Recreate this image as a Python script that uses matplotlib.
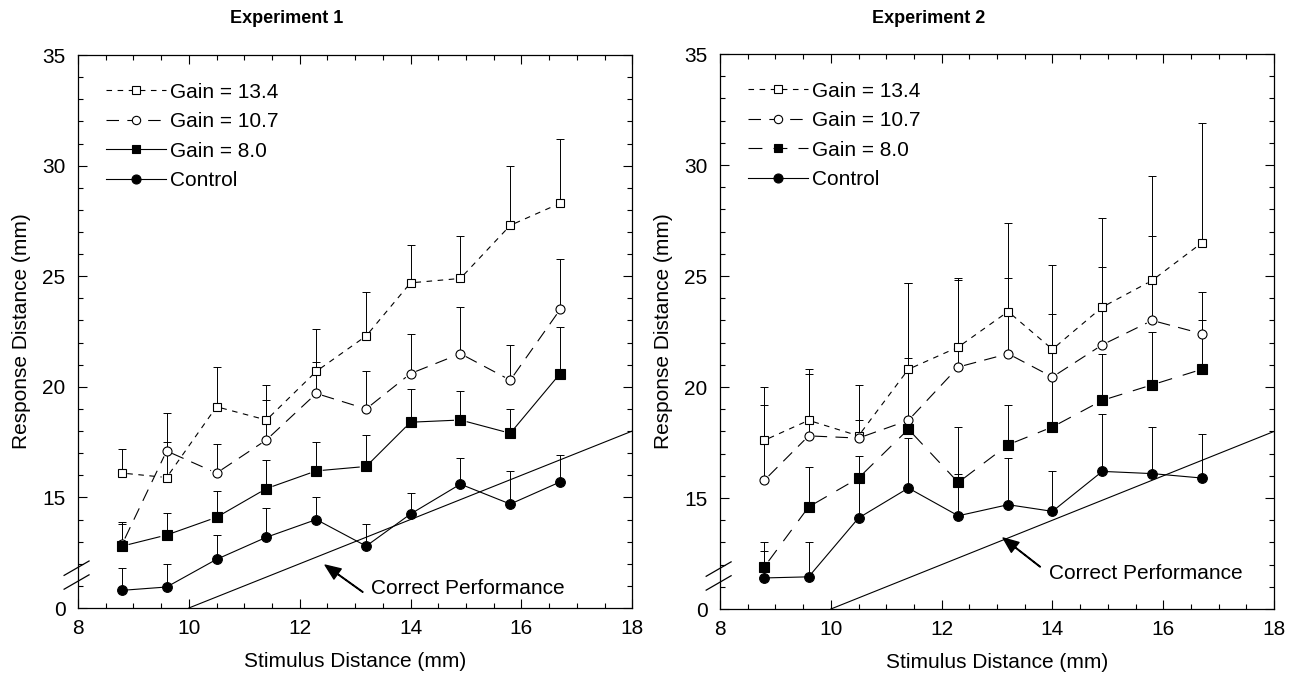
import numpy as np
import matplotlib
matplotlib.use("Agg")
import matplotlib.pyplot as plt
from matplotlib.lines import Line2D
from matplotlib.ticker import MultipleLocator

plt.rcParams['font.family'] = ['Liberation Sans', 'DejaVu Sans']
plt.rcParams['lines.scale_dashes'] = False

# ---------------- data ----------------
stim = [8.8, 9.6, 10.5, 11.4, 12.3, 13.2, 14.0, 14.9, 15.8, 16.7]

# Experiment 1 : means and top of error bar
g134_1 = [16.1, 15.9, 19.1, 18.5, 20.7, 22.3, 24.7, 24.9, 27.3, 28.3]
g134_1_hi = [17.2, 17.5, 20.9, 20.1, 22.6, 24.3, 26.4, 26.8, 30.0, 31.2]
g107_1 = [12.9, 17.1, 16.1, 17.6, 19.7, 19.0, 20.6, 21.5, 20.3, 23.5]
g107_1_hi = [13.9, 18.8, 17.4, 19.4, 21.1, 20.7, 22.4, 23.6, 21.9, 25.8]
g80_1 = [12.8, 13.3, 14.1, 15.4, 16.2, 16.4, 18.4, 18.5, 17.9, 20.6]
g80_1_hi = [13.8, 14.3, 15.3, 16.7, 17.5, 17.8, 19.9, 19.8, 19.0, 22.7]
ctrl_1 = [10.8, 10.95, 12.2, 13.2, 14.0, 12.8, 14.25, 15.6, 14.7, 15.7]
ctrl_1_hi = [11.8, 12.0, 13.3, 14.5, 15.0, 13.8, 15.2, 16.8, 16.2, 16.9]

# Experiment 2
g134_2 = [17.6, 18.5, 17.8, 20.8, 21.8, 23.4, 21.7, 23.6, 24.8, 26.5]
g134_2_hi = [20.0, 20.8, 20.1, 24.7, 24.9, 27.4, 25.5, 27.6, 29.5, 31.9]
g107_2 = [15.8, 17.8, 17.7, 18.5, 20.9, 21.5, 20.45, 21.9, 23.0, 22.4]
g107_2_hi = [19.2, 20.6, 18.5, 21.3, 24.8, 24.9, 23.3, 25.4, 26.8, 24.3]
g80_2 = [11.9, 14.6, 15.9, 18.1, 15.7, 17.4, 18.2, 19.4, 20.1, 20.8]
g80_2_hi = [13.0, 16.4, 16.9, 24.7, 18.2, 19.2, 20.5, 21.5, 22.5, 23.0]
ctrl_2 = [11.4, 11.45, 14.1, 15.45, 14.2, 14.7, 14.4, 16.2, 16.1, 15.9]
ctrl_2_hi = [12.6, 13.0, 16.0, 17.7, 16.1, 16.8, 16.2, 18.8, 18.2, 17.9]

correct_x = [10, 18]          # y = x line
ytick_vals = [10, 15, 20, 25, 30, 35]
ytick_labels = ['0', '15', '20', '25', '30', '35']
labels = ['Gain = 13.4', 'Gain = 10.7', 'Gain = 8.0', 'Control']

FS = 15
LW = 0.8

fig = plt.figure(figsize=(12.95, 6.77), dpi=100)
ax1 = fig.add_axes([0.0602, 0.1019, 0.428, 0.8168])
ax2 = fig.add_axes([0.556, 0.1004, 0.4278, 0.8198])


def seg_line(ax, x, y, gap, **kw):
    # connect points with segments that stop short of each marker
    pts = ax.transData.transform(np.column_stack([x, y]))
    inv = ax.transData.inverted()
    for p0, p1 in zip(pts[:-1], pts[1:]):
        d = p1 - p0
        u = d / np.hypot(*d)
        a = inv.transform(p0 + u * gap)
        b = inv.transform(p1 - u * gap)
        ax.plot([a[0], b[0]], [a[1], b[1]], color='k', lw=LW, **kw)


def setup(ax):
    ax.set_xlim(8, 18)
    ax.set_ylim(10, 35)
    ax.set_xticks([8, 10, 12, 14, 16, 18])
    ax.xaxis.set_minor_locator(MultipleLocator(0.5))
    ax.set_yticks(ytick_vals)
    ax.set_yticklabels(ytick_labels)
    ax.yaxis.set_minor_locator(MultipleLocator(1))
    ax.tick_params(which='both', direction='in', top=True, right=True,
                   width=0.8, labelsize=FS)
    ax.tick_params(which='major', length=6.5)
    ax.tick_params(which='minor', length=3.5)
    ax.tick_params(axis='x', pad=8)
    ax.tick_params(axis='y', pad=9)
    for s in ax.spines.values():
        s.set_linewidth(0.9)
    ax.set_xlabel('Stimulus Distance (mm)', fontsize=FS)
    ax.set_ylabel('Response Distance (mm)', fontsize=FS)
    ax.xaxis.set_label_coords(0.5, -0.08)
    ax.yaxis.set_label_coords(-0.085, 0.5)
    # axis break marks
    for dy in (0.0, 0.025):
        ax.plot([-0.025, 0.02], [0.034 + dy, 0.06 + dy], color='k', lw=0.9,
                transform=ax.transAxes, clip_on=False)


def draw(ax, series, g8_dash, tip, tail, txt_xy):
    setup(ax)
    ax.plot(correct_x, correct_x, color='k', lw=LW)
    styles = [
        dict(marker='s', mfc='white', ms=6, dashes=(4, 4), gap=5),
        dict(marker='o', mfc='white', ms=6.5, dashes=(9, 6), gap=6),
        dict(marker='s', mfc='black', ms=6.5, dashes=g8_dash, gap=7),
        dict(marker='o', mfc='black', ms=7, dashes=None, gap=0),
    ]
    handles = []
    for (y, hi), st, lab in zip(series, styles, labels):
        y = np.array(y)
        hi = np.array(hi)
        ax.errorbar(stim, y, yerr=[np.zeros_like(y), hi - y], fmt='none',
                    ecolor='k', elinewidth=0.7, capsize=3, capthick=0.7)
        kw = {} if st['dashes'] is None else {'dashes': st['dashes']}
        seg_line(ax, stim, y, st['gap'], **kw)
        ax.plot(stim, y, linestyle='none', marker=st['marker'], mfc=st['mfc'],
                mec='k', mew=0.8, ms=st['ms'], zorder=4)
        h = Line2D([], [], color='k', lw=LW, marker=st['marker'], mfc=st['mfc'],
                   mec='k', mew=0.8, ms=st['ms'] - 0.5, **kw)
        handles.append(h)
    ax.legend(handles, labels, loc='upper left', bbox_to_anchor=(0.05, 0.95),
              frameon=False, fontsize=FS, handlelength=2.9, handletextpad=0.2,
              labelspacing=0.5, borderpad=0, borderaxespad=0, numpoints=1)
    ax.annotate('', xy=tip, xytext=tail,
                arrowprops=dict(facecolor='black', edgecolor='black', width=0.4,
                                headwidth=9, headlength=11, shrink=0))
    ax.text(txt_xy[0], txt_xy[1], 'Correct Performance', fontsize=FS,
            ha='left', va='center')


draw(ax1, [(g134_1, g134_1_hi), (g107_1, g107_1_hi),
           (g80_1, g80_1_hi), (ctrl_1, ctrl_1_hi)],
     None, (12.46, 11.94), (13.14, 10.72), (13.28, 10.9))
draw(ax2, [(g134_2, g134_2_hi), (g107_2, g107_2_hi),
           (g80_2, g80_2_hi), (ctrl_2, ctrl_2_hi)],
     (10, 8), (13.11, 13.2), (13.78, 11.9), (13.94, 11.6))

fig.text(0.221, 0.972, 'Experiment 1', fontsize=13, fontweight='bold',
         ha='center', va='center')
fig.text(0.717, 0.972, 'Experiment 2', fontsize=13, fontweight='bold',
         ha='center', va='center')

fig.savefig('out.png', dpi=100)
